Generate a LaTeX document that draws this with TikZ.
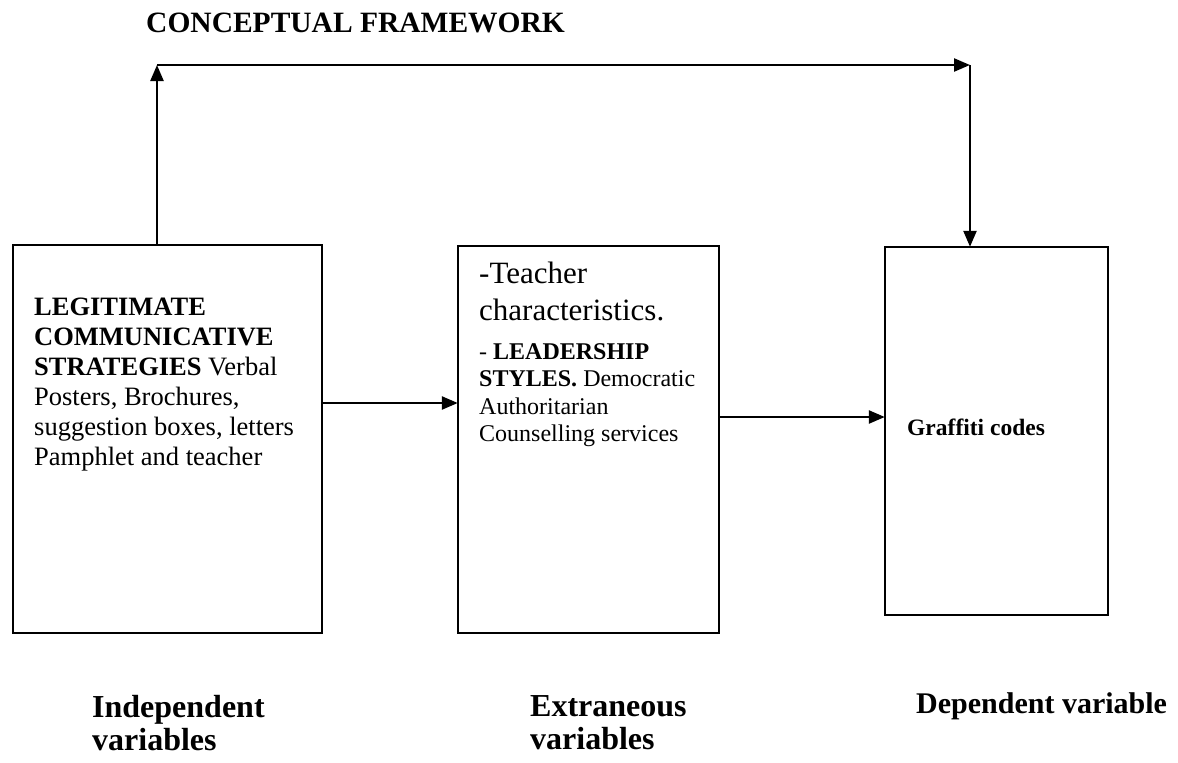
\documentclass[tikz,border=0pt]{standalone}
\usepackage{fontspec}
\setmainfont{Liberation Serif}
\usetikzlibrary{arrows.meta}
\begin{document}
\begin{tikzpicture}[x=1pt,y=-1pt,
  box/.style={draw=black,line width=1.6pt,fill=none},
  arr/.style={draw=black,line width=2.4pt,-{Triangle[length=16pt,width=13pt]}},
  txt/.style={inner sep=0pt,align=left,anchor=north west},
  lab/.style={inner sep=0pt,align=left,anchor=north west,font=\fontsize{32}{33}\selectfont\bfseries}]
\useasboundingbox (0,0) rectangle (1178,763);
% boxes
\path[box] (13,245) rectangle (322,633);
\node[inner sep=0pt] (b1) at (167.5,439) [minimum width=309pt,minimum height=388pt] {};
\path[box] (458,246) rectangle (719,633);
\node[inner sep=0pt] (b2) at (588.5,439.5) [minimum width=261pt,minimum height=387pt] {};
\path[box] (885,247) rectangle (1108,615);
\node[inner sep=0pt] (b3) at (996.5,431) [minimum width=223pt,minimum height=368pt] {};
% title
\node[inner sep=0pt,anchor=base west,font=\fontsize{29.5}{33}\selectfont\bfseries] (title) at (146,32) {CONCEPTUAL FRAMEWORK};
% box texts
\node[txt,font=\fontsize{26.5}{30}\selectfont] (t1) at (34,298) {\textbf{LEGITIMATE}\\ \textbf{COMMUNICATIVE}\\ \textbf{STRATEGIES} Verbal\\ Posters, Brochures,\\ suggestion boxes, letters\\ Pamphlet and teacher};
\node[txt,font=\fontsize{31}{37}\selectfont] (t2a) at (479,262) {-Teacher\\ characteristics.};
\node[txt,font=\fontsize{24}{27.5}\selectfont] (t2b) at (479,343) {- \textbf{LEADERSHIP}\\ \textbf{STYLES.} Democratic\\ Authoritarian\\ Counselling services};
\node[inner sep=0pt,anchor=base west,font=\fontsize{23.5}{28}\selectfont\bfseries] (t3) at (907,435) {Graffiti codes};
% bottom labels
\node[lab] (l1) at (92,695) {Independent\\ variables};
\node[lab] (l2) at (530,695) {Extraneous\\ variables};
\node[inner sep=0pt,anchor=base west,font=\fontsize{30}{33}\selectfont\bfseries] (l3) at (916,713) {Dependent variable};
% connectors
\coordinate (c1) at (157,65);
\coordinate (c2) at (970,65);
\coordinate (y1) at (0,403);
\coordinate (y2) at (0,417);
\draw[arr] (b1.north -| c1) -- (c1);
\draw[arr] (c1) -- (c2);
\draw[arr] (c2) -- (c2 |- b3.north);
\draw[arr] (b1.east |- y1) -- (b2.west |- y1);
\draw[arr] (b2.east |- y2) -- (b3.west |- y2);
\end{tikzpicture}
\end{document}
